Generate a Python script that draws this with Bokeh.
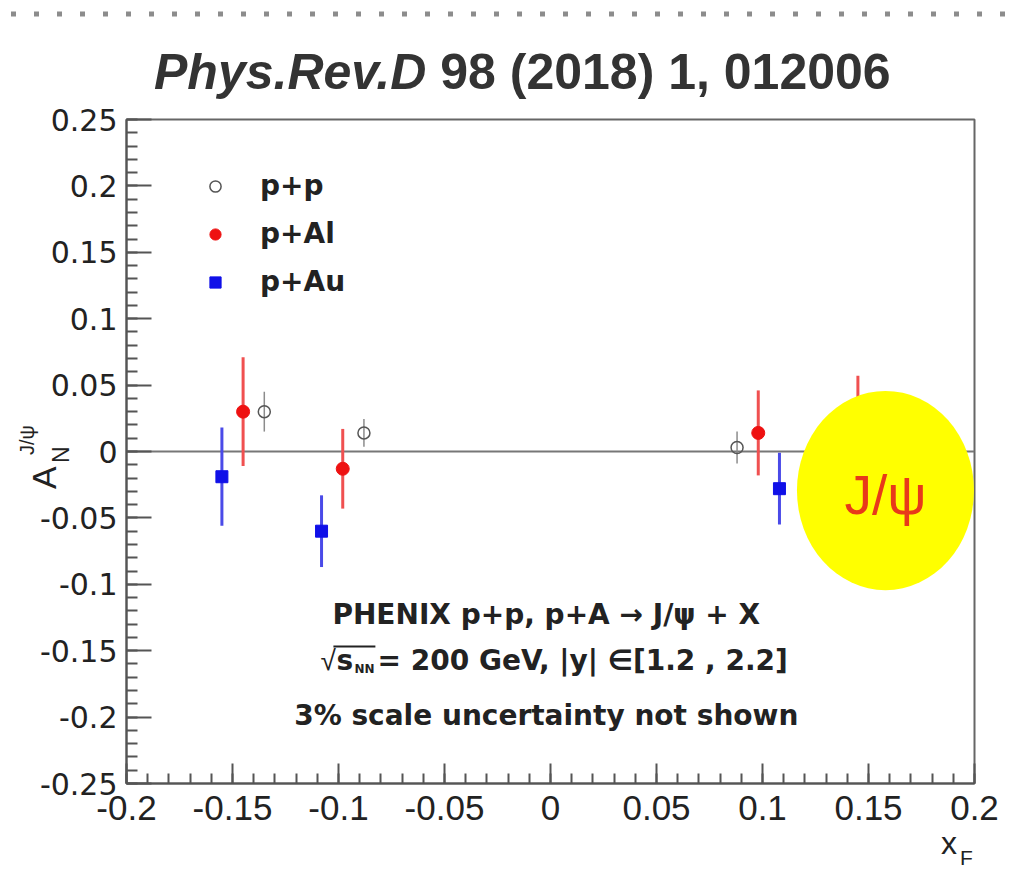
from bokeh.plotting import figure
from bokeh.models import (ColumnDataSource, Label, Legend, LegendItem, Span,
                          FixedTicker, BoxAnnotation, Range1d, GridBox, Div)
from bokeh.embed import file_html
from bokeh.resources import INLINE

# ---------------- data ----------------
pp_x = [-0.135, -0.088, 0.088]
pp_y = [0.030, 0.014, 0.003]
pp_err = [0.015, 0.0105, 0.012]

pal_x = [-0.145, -0.098, 0.098, 0.145]
pal_y = [0.030, -0.013, 0.014, 0.017]
pal_err = [0.041, 0.030, 0.032, 0.040]

pau_x = [-0.155, -0.108, 0.108]
pau_y = [-0.019, -0.060, -0.028]
pau_err = [0.037, 0.027, 0.027]

series_names = ["p+p", "p+Al", "p+Au"]

x_tick_labels = ["-0.2", "-0.15", "-0.1", "-0.05", "0", "0.05", "0.1", "0.15", "0.2"]
y_tick_labels = ["-0.25", "-0.2", "-0.15", "-0.1", "-0.05", "0", "0.05", "0.1",
                 "0.15", "0.2", "0.25"]

badge_x = [0.158]
badge_y = [-0.0294]
badge_w = [0.0835]
badge_h = [0.150]
badge_text = "J/ψ"

title_left = "Phys.Rev.D"
title_right = "98 (2018) 1, 012006"
y_label_main, y_label_sub, y_label_sup = "A", "N", "J/ψ"
x_label_main, x_label_sub = "x", "F"
info_line1 = "PHENIX p+p, p+A → J/ψ + X"
info_line2 = "= 200 GeV, |y| ∈[1.2 , 2.2]"
info_line3 = "3% scale uncertainty not shown"

W, H = 1012, 871

# ---------------- main figure ----------------
p = figure(width=W, height=H, toolbar_location=None, output_backend="svg",
           x_range=Range1d(-0.2, 0.2), y_range=Range1d(-0.25, 0.25),
           min_border_left=126, min_border_right=38, min_border_top=119,
           min_border_bottom=88)
p.xgrid.visible = False
p.ygrid.visible = False
p.outline_line_color = "#666666"
p.outline_line_width = 2
p.background_fill_color = "white"
p.border_fill_color = "white"

def minor_positions(lo, hi, step):
    n = int(round((hi - lo) / step))
    return [round(lo + i * step, 4) for i in range(n + 1)]

x_ticks = [float(t) for t in x_tick_labels]
y_ticks = [float(t) for t in y_tick_labels]
p.xaxis.ticker = FixedTicker(ticks=x_ticks, minor_ticks=minor_positions(-0.2, 0.2, 0.01))
p.yaxis.ticker = FixedTicker(ticks=y_ticks, minor_ticks=minor_positions(-0.25, 0.25, 0.01))
p.xaxis.major_label_overrides = {float(t): t for t in x_tick_labels}
p.yaxis.major_label_overrides = {float(t): t for t in y_tick_labels}

for ax in (p.xaxis, p.yaxis):
    ax.axis_line_color = "#555555"
    ax.axis_line_width = 2
    ax.major_tick_line_color = "#555555"
    ax.major_tick_line_width = 2
    ax.minor_tick_line_color = "#555555"
    ax.minor_tick_line_width = 2
    ax.major_tick_out = 0
    ax.minor_tick_out = 0
    ax.major_label_text_color = "#222222"

p.yaxis.major_tick_in = 25
p.yaxis.minor_tick_in = 11
p.yaxis.major_label_text_font = "DejaVu Sans"
p.yaxis.major_label_text_font_size = "30px"
p.yaxis.major_label_standoff = 9

p.xaxis.major_tick_in = 20
p.xaxis.minor_tick_in = 10
p.xaxis.major_label_text_font = "Liberation Sans"
p.xaxis.major_label_text_font_size = "35px"
p.xaxis.major_label_standoff = 12

# zero line
p.add_layout(Span(location=0, dimension="width", line_color="#777777",
                  line_width=2, level="underlay"))

def src(xs, ys, errs):
    return ColumnDataSource(dict(x=xs, y=ys,
                                 lo=[a - b for a, b in zip(ys, errs)],
                                 hi=[a + b for a, b in zip(ys, errs)]))

s_pp = src(pp_x, pp_y, pp_err)
s_al = src(pal_x, pal_y, pal_err)
s_au = src(pau_x, pau_y, pau_err)

p.segment(x0="x", y0="lo", x1="x", y1="hi", source=s_pp, line_color="#8c8c8c", line_width=1.5)
p.segment(x0="x", y0="lo", x1="x", y1="hi", source=s_al, line_color="#f05050", line_width=3)
p.segment(x0="x", y0="lo", x1="x", y1="hi", source=s_au, line_color="#4a4ae8", line_width=3)

r_pp = p.scatter(x="x", y="y", source=s_pp, marker="circle", size=12,
                 fill_color=None, line_color="#555555", line_width=1.5)
r_al = p.scatter(x="x", y="y", source=s_al, marker="circle", size=13,
                 fill_color="#ee1111", line_color="#ee1111")
r_au = p.scatter(x="x", y="y", source=s_au, marker="square", size=12,
                 fill_color="#1010e8", line_color="#1010e8")

# yellow badge
p.ellipse(x=badge_x, y=badge_y, width=badge_w, height=badge_h,
          fill_color="#ffff00", line_color=None)
p.add_layout(Label(x=badge_x[0], y=-0.0331, text=badge_text, text_align="center",
                   text_baseline="middle", text_font="Liberation Sans",
                   text_font_size="55px", text_color="#e8391a"))

# legend
legend = Legend(items=[LegendItem(label=series_names[0], renderers=[r_pp]),
                       LegendItem(label=series_names[1], renderers=[r_al]),
                       LegendItem(label=series_names[2], renderers=[r_au])],
                location=(75, 485), glyph_width=28, glyph_height=28,
                label_height=30, spacing=15, padding=0, margin=0,
                label_standoff=31, border_line_color=None,
                background_fill_alpha=0,
                label_text_font="DejaVu Sans", label_text_font_style="bold",
                label_text_font_size="28px", label_text_color="#222222")
p.add_layout(legend)

# info text block (inside the frame)
info_font = dict(text_font="DejaVu Sans", text_font_style="bold",
                 text_font_size="28px", text_color="#222222",
                 text_baseline="middle")
p.add_layout(Label(x=-0.002, y=-0.1224, text=info_line1, text_align="center", **info_font))
p.add_layout(Label(x=-0.002, y=-0.1985, text=info_line3, text_align="center", **info_font))
p.add_layout(Label(x=-0.1085, y=-0.1574, text="√", text_align="left",
                   text_baseline="middle", text_font="Liberation Sans",
                   text_font_size="28px", text_color="#222222"))
p.add_layout(Label(x=-0.1009, y=-0.1574, text="s", text_align="left", **info_font))
p.add_layout(Label(x=-0.0925, y=-0.1640, text="NN", text_align="left",
                   text_baseline="middle", text_font="DejaVu Sans",
                   text_font_style="bold", text_font_size="12px", text_color="#222222"))
p.add_layout(Label(x=-0.0816, y=-0.1574, text=info_line2, text_align="left", **info_font))
p.add_layout(BoxAnnotation(left=-0.1024, right=-0.0826, top=-0.1461, bottom=-0.1476,
                           fill_color="#222222", fill_alpha=1.0, line_color=None))

# ---------------- texts outside the frame: transparent overlay with SVG text ----------------
overlay_svg = f"""
<svg xmlns="http://www.w3.org/2000/svg" width="{W}" height="{H}"
     style="position:absolute;left:0;top:0;pointer-events:none">
  <line x1="0" y1="9" x2="{W}" y2="9" stroke="#8c8c8c" stroke-width="5"
        stroke-dasharray="5 18" stroke-dashoffset="-6"/>
  <text x="149" y="84" font-family="Liberation Sans" font-weight="bold"
        font-size="50px" fill="#333333"><tspan font-style="italic">{title_left}</tspan> {title_right}</text>
  <g transform="translate(51,484) rotate(-90)" font-family="Liberation Sans" fill="#222222">
    <text x="0" y="0" font-size="34px">{y_label_main}</text>
    <text x="26" y="13" font-size="23px">{y_label_sub}</text>
    <text x="34" y="-22" font-size="20px">{y_label_sup}</text>
  </g>
  <text x="936" y="849" font-family="Liberation Sans" font-size="32px" fill="#222222">{x_label_main}</text>
  <text x="955" y="860" font-family="Liberation Sans" font-size="21px" fill="#222222">{x_label_sub}</text>
</svg>
"""
ov = Div(text=overlay_svg, width=W, height=H,
         styles={"position": "relative", "pointer-events": "none"})

layout = GridBox(children=[(p, 0, 0), (ov, 0, 0)])
open("out.html", "w").write(file_html(layout, INLINE))
